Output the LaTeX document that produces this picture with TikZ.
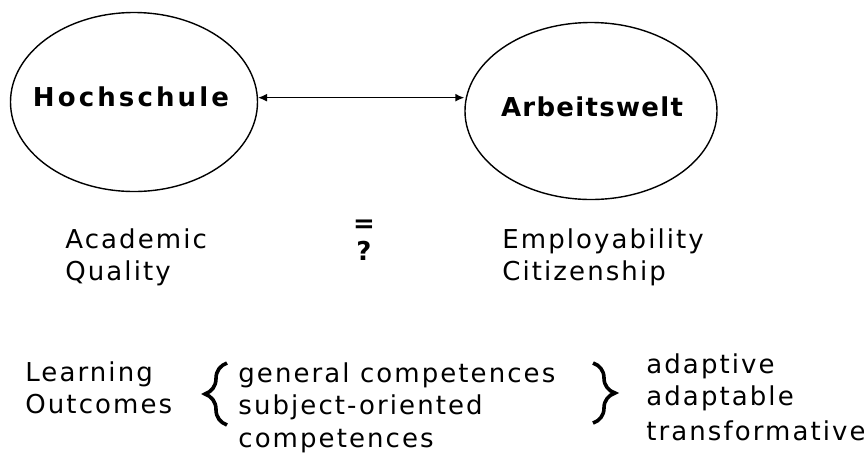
\documentclass[tikz,border=0pt]{standalone}
\usepackage{fontspec}
\setmainfont{DejaVu Sans}[LetterSpace=8]
\usetikzlibrary{shapes.geometric,arrows.meta,decorations.pathreplacing}

\tikzset{
  world/.style={ellipse, draw, line width=0.7pt, inner sep=0pt},
  wname/.style={inner sep=0pt, font=\fontsize{13}{15}\selectfont\bfseries},
  txt/.style={anchor=base west, inner sep=0pt, font=\fontsize{13}{15}\selectfont},
  sym/.style={anchor=base, inner sep=0pt, font=\fontsize{13}{15}\selectfont\bfseries},
  dblarrow/.style={{Latex[length=4.5pt,width=4pt]}-{Latex[length=4.5pt,width=4pt]}, line width=0.7pt},
  curly/.style={decorate, decoration={brace, amplitude=11pt}, line width=1.8pt}
}

\begin{document}
\begin{tikzpicture}[x=0.5pt, y=-0.5pt]
            \useasboundingbox (0,0) rectangle (864,452);

            % ellipses
            \node[world, minimum width=123.5pt, minimum height=89.5pt] (hs) at (134,102) {};
            \node[world, minimum width=126pt, minimum height=88.5pt] (aw) at (591,111) {};
            \node[wname] (hsname) at (131,97) {\addfontfeature{LetterSpace=12}Hochschule};
            \node[wname] (awname) at (592,107) {\addfontfeature{LetterSpace=5}Arbeitswelt};
            \draw[dblarrow] (hs.2) -- (hs.2 -| aw.west);

            % below the ellipses
            \node[txt] (acad) at (65,248) {Academic};
            \node[txt] (qual) at (65,280) {Quality};
            \node[sym] (eq) at (364,232) {=};
            \node[sym] (qm) at (364,260) {?};
            \node[txt] (empl) at (502,248) {Employability};
            \node[txt] (citi) at (502,280) {Citizenship};

            % learning outcomes
            \node[txt] (lear) at (25,381) {Learning};
            \node[txt] (outc) at (25,413) {Outcomes};
            \coordinate (lb1) at (227,425);
            \coordinate (lb2) at (227,363);
            \draw[curly] (lb1) -- (lb2);
            \node[txt] (genc) at (238,382) {general competences};
            \node[txt] (subj) at (238,414) {subject-oriented};
            \node[txt] (comp) at (238,447) {competences};
            \coordinate (rb1) at (593,363);
            \coordinate (rb2) at (593,423);
            \draw[curly] (rb1) -- (rb2);
            \node[txt] (adpt) at (646,373) {adaptive};
            \node[txt] (adbl) at (646,405) {adaptable};
            \node[txt] (trfm) at (646,440) {transformative};
        \end{tikzpicture}
\end{document}
